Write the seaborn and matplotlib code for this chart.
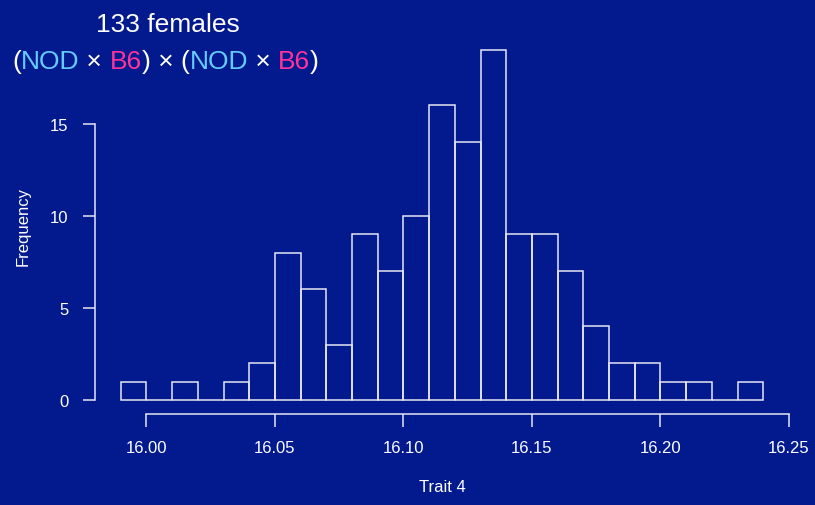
import matplotlib
matplotlib.use("Agg")
import matplotlib.pyplot as plt
import seaborn as sns
import numpy as np

# histogram of trait 4, bin width 0.01
bin_edges = [15.99, 16.00, 16.01, 16.02, 16.03, 16.04, 16.05, 16.06, 16.07,
             16.08, 16.09, 16.10, 16.11, 16.12, 16.13, 16.14, 16.15, 16.16,
             16.17, 16.18, 16.19, 16.20, 16.21, 16.22, 16.23, 16.24]
counts = [1, 0, 1, 0, 1, 2, 8, 6, 3, 9, 7, 10, 16, 14, 19, 9, 9, 7, 4, 2, 2,
          1, 1, 0, 1]
x_ticks = [16.00, 16.05, 16.10, 16.15, 16.20, 16.25]
x_ticklabels = ["16.00", "16.05", "16.10", "16.15", "16.20", "16.25"]
y_ticks = [0, 5, 10, 15]

bg = "#031a8f"
fg = "#ffffff"
line_col = "#e6e6f0"
blue = "#66ccff"
pink = "#ff3399"

sns.set_style("ticks")
plt.rcParams["font.family"] = ["Liberation Sans", "DejaVu Sans"]

centers = [(a + b) / 2 for a, b in zip(bin_edges[:-1], bin_edges[1:])]

fig = plt.figure(figsize=(8.15, 5.06), dpi=100, facecolor=bg)
ax = fig.add_axes([95 / 815, 91 / 506, 694 / 815, 378 / 506])
ax.set_facecolor(bg)

sns.histplot(x=centers, weights=counts, bins=bin_edges, fill=False,
             color=line_col, linewidth=1.1, ax=ax)

ax.set_xlim(15.98, 16.25)
ax.set_ylim(-0.76, 19.76)

for s in ["top", "right"]:
    ax.spines[s].set_visible(False)
ax.spines["bottom"].set_bounds(16.0, 16.25)
ax.spines["left"].set_bounds(0, 15)
for s in ["bottom", "left"]:
    ax.spines[s].set_color(line_col)
    ax.spines[s].set_linewidth(1.1)

ax.set_xticks(x_ticks)
ax.set_xticklabels(x_ticklabels)
ax.set_yticks(y_ticks)
ax.tick_params(direction="out", colors=line_col, labelcolor=fg, length=9,
               width=1.1, labelsize=12, pad=10)

ax.set_xlabel("Trait 4", color=fg, fontsize=12, labelpad=17)
ax.set_ylabel("Frequency", color=fg, fontsize=12, labelpad=14)

# title
fig.text(168 / 815, 1 - 25 / 506, "133 females", color=fg, fontsize=19,
         ha="center", va="center")

pieces = [("(", fg), ("NOD", blue), (" \u00d7 ", fg), ("B6", pink),
          (") \u00d7 (", fg), ("NOD", blue), (" \u00d7 ", fg), ("B6", pink),
          (")", fg)]
prev = fig.text(12 / 815, 1 - 62 / 506, pieces[0][0], color=pieces[0][1],
                fontsize=19, ha="left", va="center")
for txt, col in pieces[1:]:
    prev = ax.annotate(txt, xy=(1, 0.5), xycoords=prev, color=col,
                       fontsize=19, ha="left", va="center",
                       annotation_clip=False)

fig.savefig("out.png", dpi=100, facecolor=bg)
